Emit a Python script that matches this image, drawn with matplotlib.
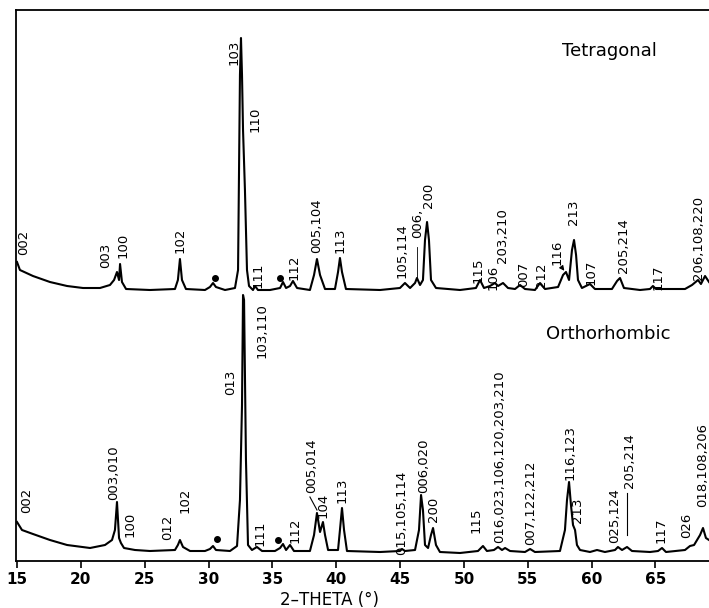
import matplotlib
matplotlib.use('Agg')
import matplotlib.pyplot as plt

tet_2theta = [15.00, 15.23, 16.25, 17.58, 18.92, 20.17, 21.50, 22.28, 22.60, 22.83, 22.99, 23.07,
              23.22, 23.54, 25.41, 27.37, 27.60, 27.76, 27.92, 28.23, 29.72, 30.11, 30.35, 30.58,
              31.29, 32.07, 32.31, 32.46, 32.54, 32.62, 32.70, 32.85, 33.01, 33.17, 33.48, 33.64,
              33.87, 34.81, 35.60, 35.83, 36.07, 36.38, 36.61, 36.93, 37.94, 38.26, 38.49, 38.73,
              39.12, 39.90, 40.14, 40.29, 40.45, 40.76, 43.43, 44.99, 45.38, 45.78, 46.17, 46.32,
              46.56, 46.79, 46.95, 47.11, 47.26, 47.42, 47.81, 49.69, 50.94, 51.26, 51.57, 52.04,
              52.43, 52.67, 53.06, 53.45, 54.00, 54.39, 54.78, 55.56, 55.96, 56.35, 57.37, 57.76,
              57.99, 58.23, 58.46, 58.62, 58.78, 58.93, 59.24, 59.87, 60.26, 61.59, 61.99, 62.22,
              62.53, 63.79, 64.57, 64.80, 65.04, 67.31, 67.86, 68.33, 68.56, 68.88, 69.19]
tet_int = [299, 291, 285, 279, 275, 273, 273, 276, 281, 289, 281, 297,
           279, 272, 271, 272, 281, 302, 281, 272, 271, 274, 278, 274,
           271, 273, 291, 486, 523, 486, 431, 371, 291, 275, 271, 275,
           271, 271, 273, 279, 273, 275, 280, 273, 271, 286, 302, 286,
           272, 272, 289, 303, 289, 272, 271, 273, 278, 273, 278, 283,
           276, 281, 321, 339, 321, 281, 273, 271, 273, 281, 273, 275,
           278, 275, 278, 273, 272, 276, 272, 271, 278, 272, 274, 286,
           289, 281, 311, 321, 306, 281, 273, 277, 272, 272, 280, 283,
           273, 271, 272, 275, 272, 272, 276, 281, 277, 285, 279]

ort_2theta = [15.00, 15.39, 16.25, 17.58, 18.92, 20.72, 21.89, 22.44, 22.67, 22.83, 22.99, 23.14,
              23.38, 24.24, 25.41, 27.37, 27.60, 27.76, 28.00, 28.55, 29.72, 30.11, 30.35, 30.58,
              31.68, 32.23, 32.46, 32.62, 32.70, 32.78, 32.93, 33.09, 33.40, 33.79, 34.19, 35.20,
              35.60, 35.83, 36.07, 36.38, 36.69, 37.94, 38.26, 38.49, 38.73, 38.96, 39.12, 39.36,
              40.14, 40.29, 40.45, 40.61, 40.84, 43.43, 44.99, 45.15, 45.38, 46.17, 46.48, 46.64,
              46.79, 46.95, 47.19, 47.42, 47.58, 47.81, 48.12, 49.69, 51.10, 51.49, 51.80, 52.35,
              52.67, 52.98, 53.22, 53.61, 54.78, 55.18, 55.56, 57.52, 57.91, 58.07, 58.23, 58.38,
              58.54, 58.70, 58.85, 59.09, 59.87, 60.42, 61.04, 61.83, 62.06, 62.38, 62.77, 63.16,
              64.57, 65.20, 65.51, 65.82, 67.31, 67.70, 68.02, 68.49, 68.72, 68.95, 69.19]
ort_int = [39, 31, 27, 21, 16, 13, 16, 21, 31, 59, 23, 18,
           13, 11, 10, 11, 16, 21, 14, 10, 10, 12, 15, 11,
           10, 15, 61, 156, 266, 261, 101, 16, 11, 14, 10, 10,
           13, 17, 11, 16, 10, 10, 26, 48, 29, 39, 26, 11,
           11, 31, 53, 31, 10, 9, 10, 12, 10, 11, 31, 66,
           51, 16, 13, 26, 33, 16, 9, 8, 10, 15, 10, 11,
           14, 11, 13, 10, 9, 12, 9, 10, 31, 61, 79, 56,
           36, 31, 16, 11, 9, 11, 9, 11, 14, 11, 14, 10,
           9, 10, 13, 9, 11, 15, 16, 26, 33, 23, 21]

# Indices (hkl) y su posicion
tet_labels = ['002', '003', '100', '102', '103', '110', '111', '112', '005,104', '113',
              '105,114', '006,', '200', '115', '106', '203,210', '007', '212', '116', '213',
              '107', '205,214', '117', '206,108,220']
tet_lab_x = [15.55, 21.97, 23.30, 27.76, 32.00, 33.64, 33.87, 36.69, 38.49, 40.29,
             45.15, 46.40, 47.26, 51.10, 52.27, 52.98, 54.70, 56.11, 57.29, 58.54,
             59.95, 62.53, 65.20, 68.33]
tet_lab_y = [306, 293, 303, 308, 496, 429, 273, 281, 308, 308,
             283, 323, 353, 278, 271, 298, 274, 273, 296, 336,
             276, 288, 271, 281]

ort_labels = ['002', '003,010', '100', '012', '102', '013', '103,110', '111', '112', '005,014',
              '104', '113', '015,105,114', '006,020', '200', '115', '016,023,106,120,203,210',
              '007,122,212', '116,123', '213', '025,124', '205,214', '117', '026', '018,108,206']
ort_lab_x = [15.78, 22.60, 23.85, 26.82, 28.16, 31.76, 34.19, 34.03, 36.77, 38.10,
             38.96, 40.45, 45.15, 46.87, 47.58, 50.94, 52.82,
             55.25, 58.30, 58.93, 61.83, 63.00, 65.43, 67.47, 68.72]
ort_lab_y = [48, 61, 24, 21, 48, 166, 203, 15, 18, 68,
             43, 58, 6, 68, 39, 28, 18,
             16, 81, 38, 18, 73, 18, 23, 54]

# Picos de impureza (puntos)
imp_x = [30.50, 35.60, 30.66, 35.44]
imp_y = [283, 283, 22, 21]

fig = plt.figure(figsize=(7.09, 6.08), dpi=100)
ax = fig.add_axes([16 / 709, 1 - 561 / 608, 693 / 709, 551 / 608])

ax.plot(tet_2theta, tet_int, color='black', lw=1.5)
ax.plot(ort_2theta, ort_int, color='black', lw=1.5)
ax.plot(imp_x, imp_y, 'o', color='black', ms=4)

for t, x, y in zip(tet_labels, tet_lab_x, tet_lab_y):
    ax.text(x, y, t, rotation=90, ha='center', va='bottom', fontsize=9.5)
for t, x, y in zip(ort_labels, ort_lab_x, ort_lab_y):
    ax.text(x, y, t, rotation=90, ha='center', va='bottom', fontsize=9.5, clip_on=True)

# lineas guia
ax.plot([46.32, 46.32], [314, 283], color='black', lw=0.6)
ax.annotate('', xy=(57.99, 288), xytext=(57.52, 296),
            arrowprops=dict(arrowstyle='-|>', color='black', lw=0.8, mutation_scale=7))
ax.plot([37.94, 38.49], [64, 51], color='black', lw=0.8)
ax.plot([62.77, 62.77], [68, 26], color='black', lw=0.8)

ax.text(61.4, 510, 'Tetragonal', ha='center', va='center', fontsize=13)
ax.text(61.3, 227, 'Orthorhombic', ha='center', va='center', fontsize=13)

ax.set_xlim(15 - 1 / 12.77, 69.19)
ax.set_ylim(0, 551)
ax.set_xticks([15, 20, 25, 30, 35, 40, 45, 50, 55, 60, 65])
ax.set_yticks([])
ax.tick_params(axis='x', direction='out', length=5, width=1.2, labelsize=11, pad=3)
for lab in ax.get_xticklabels():
    lab.set_fontweight('bold')
ax.spines['right'].set_visible(False)
for s in ['left', 'bottom', 'top']:
    ax.spines[s].set_linewidth(1.3)
ax.set_xlabel('2\u2013THETA (°)', fontsize=12, labelpad=2)
ax.xaxis.set_label_coords(0.453, -0.055)

plt.savefig('out.png', dpi=100)
